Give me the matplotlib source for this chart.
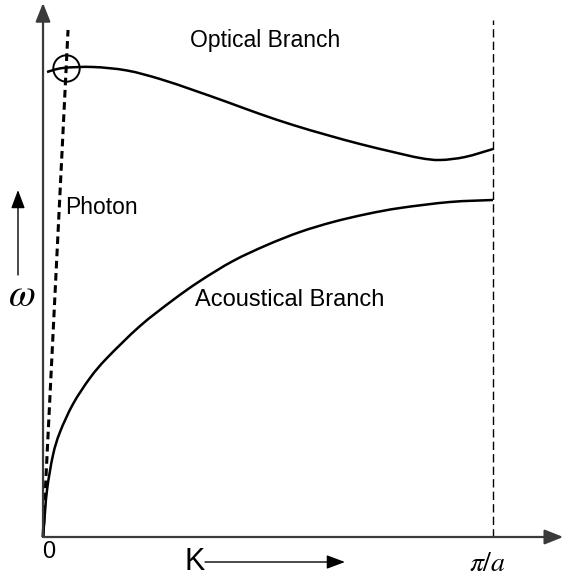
import numpy as np
import matplotlib
matplotlib.use('Agg')
import matplotlib.pyplot as plt
from matplotlib.path import Path
from matplotlib.patches import PathPatch

plt.rcParams['font.family'] = ['Liberation Sans', 'DejaVu Sans']
plt.rcParams['mathtext.fontset'] = 'stix'

# 数据：K 以 pi/a 为单位，omega 为任意单位
acoustic_k = [0, 0.0022, 0.0089, 0.0222, 0.0378, 0.0667, 0.1044, 0.1422, 0.2156, 0.2889,
              0.3489, 0.4222, 0.4978, 0.5711, 0.6444, 0.72, 0.7933, 0.9044, 1.0]
acoustic_w = [0, 0.024, 0.094, 0.164, 0.21, 0.266, 0.318, 0.358, 0.422, 0.474,
              0.512, 0.552, 0.584, 0.61, 0.63, 0.646, 0.658, 0.67, 0.674]

optical_k = [0.0089, 0.0444, 0.1111, 0.1867, 0.26, 0.3333, 0.4089, 0.4822, 0.5556, 0.6311,
             0.7044, 0.7778, 0.8378, 0.8822, 0.9378, 1.0]
optical_w = [0.93, 0.938, 0.94, 0.933, 0.916, 0.894, 0.87, 0.846, 0.824, 0.804,
             0.786, 0.77, 0.758, 0.754, 0.76, 0.776]

photon_k = [0, 0.0556]
photon_w = [0, 1.014]

crossing = (0.0511, 0.938)  # 光子线与光学支交点


def smooth_path(xs, ys):
    # 用 Catmull-Rom 转三次贝塞尔，让折线看起来圆滑
    p = np.column_stack([xs, ys])
    verts = [p[0]]
    codes = [Path.MOVETO]
    for i in range(len(p) - 1):
        p0 = p[i - 1] if i > 0 else p[i]
        p3 = p[i + 2] if i + 2 < len(p) else p[i + 1]
        c1 = p[i] + (p[i + 1] - p0) / 6
        c2 = p[i + 1] - (p3 - p[i]) / 6
        verts += [c1, c2, p[i + 1]]
        codes += [Path.CURVE4] * 3
    return Path(verts, codes)


fig = plt.figure(figsize=(5.65, 5.78), dpi=100)
ax = fig.add_axes([0, 0, 1, 1])
ax.set_xlim(-0.0956, 1.16)
ax.set_ylim(-0.082, 1.074)
ax.set_axis_off()

# 坐标轴箭头
axis_arrow = dict(arrowstyle='-|>,head_length=0.75,head_width=0.3', color='#3a3a3a',
                  lw=1.6, shrinkA=0, shrinkB=0, mutation_scale=15)
ax.annotate('', xy=(0, 1.068), xytext=(0, 0), arrowprops=axis_arrow)
ax.annotate('', xy=(1.156, 0), xytext=(0, 0), arrowprops=axis_arrow)

# 色散曲线
for xs, ys in [(acoustic_k, acoustic_w), (optical_k, optical_w)]:
    ax.add_patch(PathPatch(smooth_path(xs, ys), facecolor='none', edgecolor='black',
                           lw=1.8, capstyle='butt'))
ax.plot(photon_k, photon_w, color='black', lw=2.2, linestyle=(0, (2.5, 1.5)))
ax.plot(*crossing, marker='o', markersize=19, markerfacecolor='none',
        markeredgecolor='black', markeredgewidth=1.4)

# 布里渊区边界
ax.plot([1.0, 1.0], [0, 1.034], color='black', lw=1.0, linestyle=(0, (6, 3)))

# 标签
ax.text(0.493, 0.994, 'Optical Branch', fontsize=16.5, ha='center', va='center')
ax.text(0.049, 0.66, 'Photon', fontsize=16.5, ha='left', va='center')
ax.text(0.549, 0.474, 'Acoustical Branch', fontsize=17, ha='center', va='center')
ax.text(0.0133, -0.03, '0', fontsize=17, ha='center', va='center')
ax.text(0.987, -0.054, r'$\pi/a$', fontsize=20, ha='center', va='center')
ax.text(0.336, -0.05, 'K', fontsize=22, ha='center', va='center')
ax.text(-0.047, 0.482, r'$\omega$', fontsize=28, ha='center', va='center')

# K 和 omega 方向箭头
small_arrow = dict(arrowstyle='-|>,head_length=0.8,head_width=0.3', color='black',
                   lw=1.0, shrinkA=0, shrinkB=0, mutation_scale=14)
ax.annotate('', xy=(0.671, -0.05), xytext=(0.36, -0.05), arrowprops=small_arrow)
ax.annotate('', xy=(-0.0556, 0.694), xytext=(-0.0556, 0.524), arrowprops=small_arrow)

plt.savefig('out.png', dpi=100)
